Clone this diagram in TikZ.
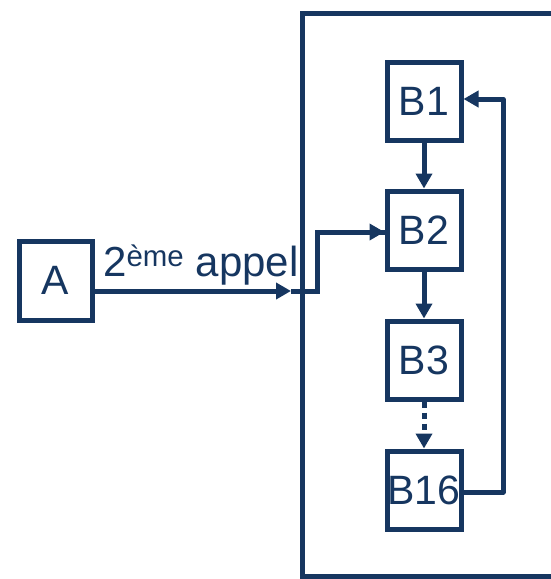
\documentclass[tikz,border=0pt]{standalone}
\usepackage{fontspec}
\setmainfont{Liberation Sans}
\usetikzlibrary{arrows.meta}
\definecolor{navy}{RGB}{22,54,96}
\tikzset{
  blk/.style={draw=navy, line width=5pt, minimum width=74pt, minimum height=78pt, inner sep=0pt, text=navy, font=\fontsize{41}{48}\selectfont},
  conn/.style={draw=navy, line width=5pt, -{Triangle[length=15pt,width=16pt]}},
  plain/.style={draw=navy, line width=5pt}
}
\begin{document}
\begin{tikzpicture}[x=1pt,y=-1pt]
\useasboundingbox (0,0) rectangle (550,579);
% frame
\draw[plain] (560,13) -- (302,13) -- (302,576) -- (560,576);
% nodes
\node[blk, minimum height=79pt, minimum width=73pt] (A) at (55.5,280.5) {A};
\node[blk] (B1) at (424,101) {B1};
\node[blk] (B2) at (424,230) {B2};
\node[blk] (B3) at (424,360) {B3};
\node[blk] (B16) at (424,490) {B16};
% label
\node[anchor=base west, inner sep=0pt, text=navy, font=\fontsize{42}{48}\selectfont] (lbl) at (103,276) {2\textsuperscript{ème} appel};
% A -> B2
\coordinate (m) at (291,291);
\coordinate (k1) at (317,291);
\coordinate (k2) at (317,232);
\draw[conn] (A.east |- m) -- (m);
\draw[plain] (m) -- (k1) -- (k2) -- (B2.west |- k2);
\draw[conn] (k2) -- (B2.west |- k2);
% chain
\draw[conn] (B1.south) -- (B2.north);
\draw[conn] (B2.south) -- (B3.north);
\draw[conn, dash pattern=on 6pt off 5pt] (B3.south) -- (B16.north);
% loop
\coordinate (r1) at (503,492);
\coordinate (r2) at (503,99);
\draw[conn, line join=round] (B16.east |- r1) -- (r1) -- (r2) -- (B1.east |- r2);
\end{tikzpicture}
\end{document}
